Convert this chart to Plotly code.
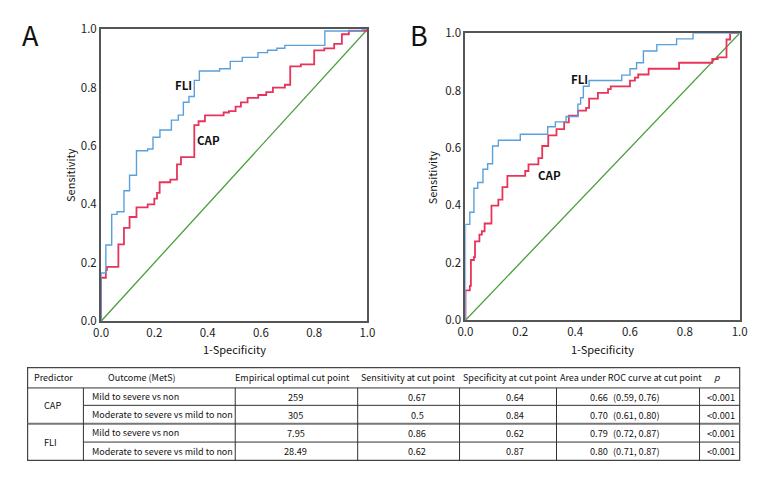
import plotly.graph_objects as go

# ROC step points (x = 1-specificity where the step happens, y = new sensitivity)
fli_a_x = [0, 0, 0.018, 0.04, 0.06, 0.086, 0.107, 0.133, 0.175, 0.195, 0.221, 0.264, 0.29, 0.309,
           0.33, 0.35, 0.369, 0.445, 0.485, 0.53, 0.589, 0.625, 0.66, 0.69, 0.84, 0.98, 1.0]
fli_a_y = [0, 0.165, 0.261, 0.366, 0.375, 0.447, 0.50, 0.584, 0.59, 0.63, 0.655, 0.689, 0.706, 0.75,
           0.77, 0.825, 0.857, 0.865, 0.89, 0.904, 0.92, 0.928, 0.935, 0.945, 0.994, 1.0, 1.0]

cap_a_x = [0, 0, 0.018, 0.022, 0.065, 0.086, 0.107, 0.133, 0.175, 0.20, 0.21, 0.22, 0.26, 0.285,
           0.30, 0.35, 0.366, 0.39, 0.46, 0.48, 0.505, 0.525, 0.55, 0.59, 0.62, 0.645, 0.69, 0.71,
           0.75, 0.80, 0.838, 0.875, 0.904, 0.93, 1.0]
cap_a_y = [0, 0.149, 0.175, 0.186, 0.263, 0.32, 0.357, 0.39, 0.40, 0.42, 0.44, 0.476, 0.485, 0.537,
           0.562, 0.672, 0.685, 0.705, 0.715, 0.72, 0.735, 0.75, 0.765, 0.775, 0.785, 0.80, 0.81,
           0.873, 0.88, 0.928, 0.935, 0.95, 0.983, 0.995, 1.0]

fli_b_x = [0, 0, 0.016, 0.031, 0.045, 0.064, 0.081, 0.099, 0.12, 0.2, 0.3, 0.328, 0.367, 0.41,
           0.42, 0.43, 0.451, 0.57, 0.6, 0.624, 0.649, 0.698, 0.77, 0.83, 1.0]
fli_b_y = [0, 0.334, 0.376, 0.46, 0.48, 0.526, 0.545, 0.607, 0.627, 0.648, 0.674, 0.691, 0.71, 0.753,
           0.775, 0.815, 0.835, 0.854, 0.876, 0.897, 0.938, 0.96, 0.98, 1.0, 1.0]

cap_b_x = [0, 0, 0.016, 0.02, 0.031, 0.035, 0.051, 0.06, 0.07, 0.095, 0.12, 0.135, 0.153, 0.218,
           0.23, 0.266, 0.28, 0.302, 0.332, 0.36, 0.377, 0.41, 0.44, 0.451, 0.483, 0.52, 0.53, 0.6,
           0.618, 0.63, 0.668, 0.779, 0.9, 0.92, 0.952, 0.965, 1.0]
cap_b_y = [0, 0.104, 0.12, 0.21, 0.22, 0.275, 0.298, 0.31, 0.337, 0.399, 0.42, 0.464, 0.503, 0.52,
           0.543, 0.565, 0.607, 0.644, 0.666, 0.689, 0.713, 0.73, 0.74, 0.772, 0.792, 0.805, 0.815,
           0.835, 0.845, 0.856, 0.876, 0.897, 0.91, 0.916, 0.978, 1.0, 1.0]

ticks = [0, 0.2, 0.4, 0.6, 0.8, 1.0]

# table contents
header = ["Predictor", "Outcome (MetS)", "Empirical optimal cut point", "Sensitivity at cut point",
          "Specificity at cut point", "Area under ROC curve at cut point", "<i>p</i>"]
predictors = ["CAP", "FLI"]
outcomes = ["Mild to severe vs non", "Moderate to severe vs mild to non",
            "Mild to severe vs non", "Moderate to severe vs mild to non"]
cut_points = ["259", "305", "7.95", "28.49"]
sens = ["0.67", "0.5", "0.86", "0.62"]
spec = ["0.64", "0.84", "0.62", "0.87"]
auc = ["0.66", "0.70", "0.79", "0.80"]
auc_ci = ["(0.59, 0.76)", "(0.61, 0.80)", "(0.72, 0.87)", "(0.71, 0.87)"]
p_vals = ["<0.001", "<0.001", "<0.001", "<0.001"]

W, H = 780, 480
FONT = "Noto Sans CJK SC, Roboto, sans-serif"
BLUE = "#5aa0dc"
RED = "#e8345a"
GREEN = "#4a9e3c"
FRAME = "#555555"
TS = 9.2  # table font size
HS = 9  # table header font size


def px(x):
    return x / W


def py(y):
    return 1 - y / H


fig = go.Figure()

panels = [
    ("x", "y", fli_a_x, fli_a_y, cap_a_x, cap_a_y),
    ("x2", "y2", fli_b_x, fli_b_y, cap_b_x, cap_b_y),
]
for xa, ya, fx, fy, cx, cy in panels:
    fig.add_trace(go.Scatter(x=[0, 1], y=[0, 1], mode="lines", xaxis=xa, yaxis=ya,
                             line=dict(color=GREEN, width=1.3), showlegend=False))
    fig.add_trace(go.Scatter(x=cx, y=cy, mode="lines", xaxis=xa, yaxis=ya, line_shape="hv",
                             line=dict(color=RED, width=1.8), showlegend=False))
    fig.add_trace(go.Scatter(x=fx, y=fy, mode="lines", xaxis=xa, yaxis=ya, line_shape="hv",
                             line=dict(color=BLUE, width=1.4), showlegend=False))

axis_style = dict(range=[0, 1], tickvals=ticks, tickformat=".1f", showgrid=False, zeroline=False,
                  showline=True, mirror=True, linecolor=FRAME, linewidth=2, ticks="",
                  tickfont=dict(family=FONT, size=11.5, color="#222"), fixedrange=True)

fig.update_layout(
    width=W, height=H, margin=dict(l=0, r=0, t=0, b=0),
    paper_bgcolor="white", plot_bgcolor="white",
    font=dict(family=FONT, size=11, color="#222"),
    xaxis=dict(domain=[px(95), px(367)], anchor="y", **axis_style),
    yaxis=dict(domain=[py(323), py(21)], anchor="x", **axis_style),
    xaxis2=dict(domain=[px(467), px(747)], anchor="y2", **axis_style),
    yaxis2=dict(domain=[py(322), py(25)], anchor="x2", **axis_style),
)

ann = []


def text(x, y, s, size=TS, xanchor="center", bold=False, angle=0):
    ann.append(dict(x=px(x), y=py(y), xref="paper", yref="paper", text=("<b>%s</b>" % s) if bold else s,
                    showarrow=False, xanchor=xanchor, yanchor="middle", textangle=angle,
                    font=dict(family=FONT, size=size, color="#111")))


# panel letters, axis titles, curve labels
text(23, 26, "A", size=27)
text(420, 26, "B", size=27)
text(231, 352, "1-Specificity", size=11)
text(607, 352, "1-Specificity", size=11)
text(64, 172, "Sensitivity", size=11, angle=-90)
text(433, 174, "Sensitivity", size=11, angle=-90)
text(179, 79, "FLI", size=11.5, bold=True)
text(205, 135, "CAP", size=11.5, bold=True)
text(583, 72, "FLI", size=11.5, bold=True)
text(553, 172, "CAP", size=11.5, bold=True)

# table geometry (pixels)
t_left, t_right = 20, 747
t_top, h_bot = 371, 392
row_edges = [392, 410, 429, 448, 467]
cols = [t_left, 77, 232, 357, 461, 560, 706, t_right]

shapes = []


def hline(x0, x1, y, color="#333", width=1):
    shapes.append(dict(type="line", xref="paper", yref="paper", x0=px(x0), x1=px(x1),
                       y0=py(y), y1=py(y), line=dict(color=color, width=width)))


def vline(x, y0, y1, color="#333", width=1):
    shapes.append(dict(type="line", xref="paper", yref="paper", x0=px(x), x1=px(x),
                       y0=py(y0), y1=py(y1), line=dict(color=color, width=width)))


shapes.append(dict(type="rect", xref="paper", yref="paper", x0=px(t_left), x1=px(t_right),
                   y0=py(row_edges[-1]), y1=py(t_top), line=dict(color="#444", width=1.2)))
hline(t_left, t_right, h_bot)
hline(cols[1], t_right, row_edges[1])
hline(t_left, t_right, row_edges[2], color="#777", width=2)
hline(cols[1], t_right, row_edges[3])
for c in cols[1:-1]:
    vline(c, h_bot, row_edges[-1])

# header texts
header_x = [46, 137, 290, 408, 513, 636, 724]
for hx, h in zip(header_x, header):
    text(hx, (t_top + h_bot) / 2, h, size=HS)

for i in range(4):
    yc = (row_edges[i] + row_edges[i + 1]) / 2
    text(cols[1] + 7, yc, outcomes[i], xanchor="left", size=9)
    text(294, yc, cut_points[i])
    text(418, yc, sens[i])
    text(518, yc, spec[i])
    text(592, yc, auc[i], xanchor="left")
    text(616, yc, auc_ci[i], xanchor="left")
    text(t_right - 3, yc, p_vals[i], xanchor="right")

for j, pred in enumerate(predictors):
    text(35, row_edges[2 * j + 1], pred, xanchor="left")

fig.update_layout(annotations=ann, shapes=shapes)

fig.write_html("out.html", config={"displayModeBar": False},
               post_script="document.body.style.margin='0';")
